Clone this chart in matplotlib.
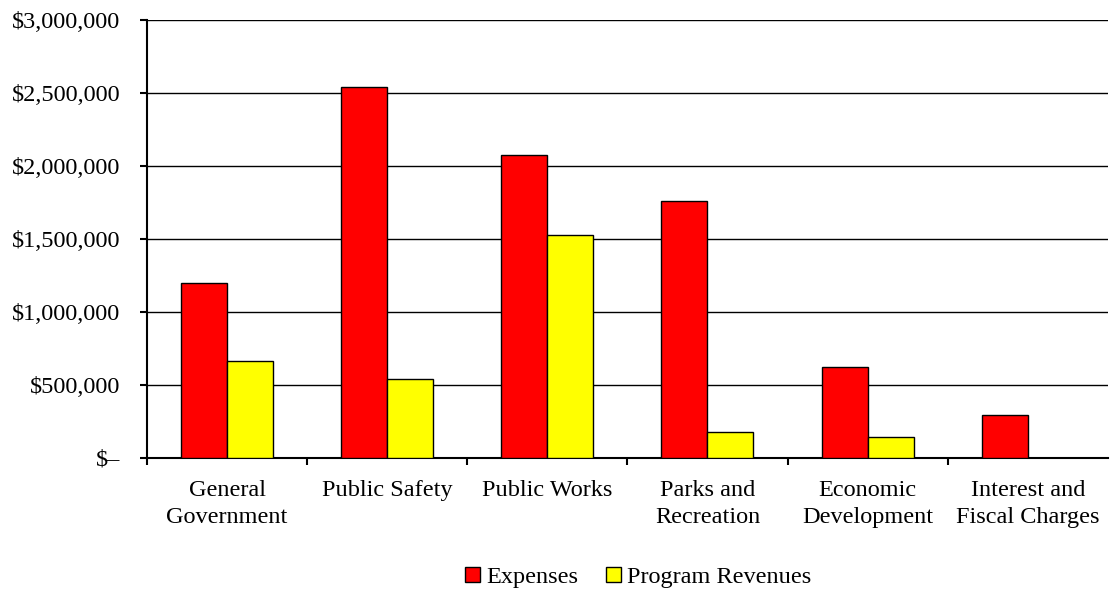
import numpy as np
import matplotlib.pyplot as plt
from matplotlib.ticker import FuncFormatter

plt.rcParams['font.family'] = ['Liberation Serif', 'DejaVu Serif']

# Data
CATEGORIES = ['General\nGovernment', 'Public Safety', 'Public Works',
              'Parks and\nRecreation', 'Economic\nDevelopment',
              'Interest and\nFiscal Charges']
EXPENSES = [1200000, 2540000, 2075000, 1760000, 625000, 295000]
REVENUES = [665000, 542000, 1527000, 180000, 143000, 0]


def dollar_fmt(v, pos):
    if v == 0:
        return '$\u2013'
    return f'${v:,.0f}'


def make_chart():
    fig = plt.figure(figsize=(11.1, 5.92), dpi=100)
    ax = fig.add_axes([0.1324, 0.2264, 0.8656, 0.7396])

    x = np.arange(len(CATEGORIES))
    w = 0.2875
    ax.bar(x - w / 2, EXPENSES, w, color='#ff0000', edgecolor='black',
           linewidth=1, label='Expenses', zorder=3)
    ax.bar(x + w / 2, REVENUES, w, color='#ffff00', edgecolor='black',
           linewidth=1, label='Program Revenues', zorder=3)

    ax.set_xlim(-0.5, len(CATEGORIES) - 0.5)
    ax.set_ylim(0, 3000000)
    ax.set_yticks(np.arange(0, 3000001, 500000))
    ax.yaxis.set_major_formatter(FuncFormatter(dollar_fmt))
    ax.yaxis.grid(True, color='black', linewidth=1, zorder=0)

    # category labels centred, tick marks at group boundaries (not the last edge)
    ax.set_xticks(x)
    ax.set_xticklabels(CATEGORIES, fontsize=17.5, linespacing=1.35)
    ax.tick_params(axis='x', length=0, pad=16)
    ax.set_xticks(np.arange(-0.5, len(CATEGORIES) - 1, 1), minor=True)
    ax.tick_params(axis='x', which='minor', length=5, width=1.5, direction='out')
    ax.tick_params(axis='y', length=5, width=1.5, labelsize=17.5, pad=14)

    for side in ['top', 'right']:
        ax.spines[side].set_visible(False)
    for side in ['left', 'bottom']:
        ax.spines[side].set_linewidth(1.5)

    fig.legend(loc='lower center', bbox_to_anchor=(0.575, -0.03), ncol=2,
               frameon=False, fontsize=17.5, handlelength=0.6, handleheight=0.6,
               handletextpad=0.25, columnspacing=1.15)

    fig.savefig('out.png', dpi=100)
    plt.close(fig)


if __name__ == "__main__":
    make_chart()
